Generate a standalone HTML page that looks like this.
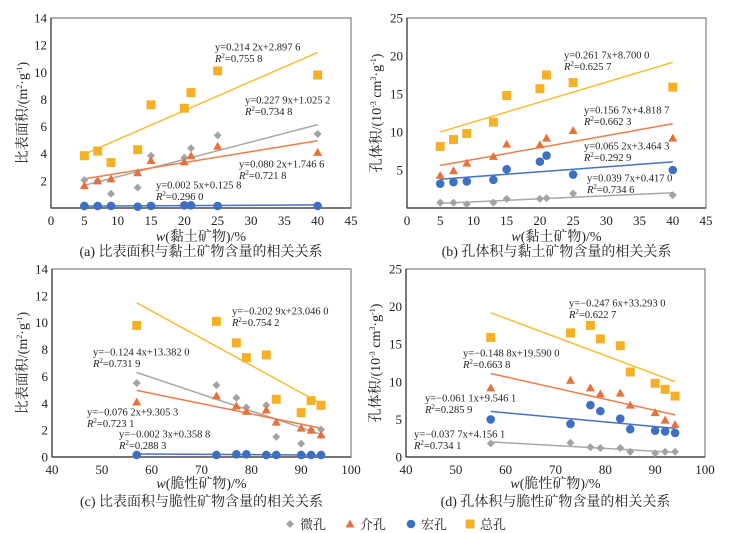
<!DOCTYPE html>
<html><head><meta charset="utf-8">
<style>
body{margin:0;background:#fff;}
svg{display:block;font-family:"Liberation Serif","Noto Serif CJK SC","Noto Sans CJK SC",serif;}
</style></head>
<body>
<svg id="fig" width="739" height="533" viewBox="0 0 739 533" xmlns="http://www.w3.org/2000/svg"></svg>
<script>
// Panel x categories
const clayX = [5,7,9,13,15,20,21,25,40];
const brittleX = [57,73,77,79,83,85,90,92,94];
// Panel a: specific surface area vs clay
const aTotal = [3.85,4.2,3.35,4.3,7.6,7.35,8.5,10.1,9.8];
const aMicro = [2.05,2.0,1.05,1.5,3.85,3.7,4.4,5.35,5.45];
const aMeso = [1.65,2.0,2.15,2.6,3.5,3.4,3.85,4.55,4.1];
const aMacro = [0.15,0.15,0.15,0.1,0.15,0.2,0.2,0.15,0.15];
// Panel b: pore volume vs clay
const bTotal = [8.1,9.0,9.8,11.3,14.8,15.7,17.5,16.5,15.9];
const bMeso = [4.3,4.9,5.9,6.8,8.4,8.3,9.2,10.2,9.2];
const bMacro = [3.2,3.4,3.5,3.7,5.1,6.1,6.9,4.4,5.0];
const bMicro = [0.7,0.7,0.5,0.7,1.2,1.2,1.3,1.9,1.7];
// Panel c: specific surface area vs brittle
const cTotal = [9.8,10.1,8.5,7.4,7.6,4.3,3.3,4.2,3.85];
const cMicro = [5.5,5.35,4.4,3.7,3.85,1.5,1.0,2.0,2.05];
const cMeso = [4.1,4.55,3.8,3.4,3.5,2.6,2.15,2.0,1.65];
const cMacro = [0.15,0.15,0.2,0.2,0.15,0.15,0.15,0.15,0.15];
// Panel d: pore volume vs brittle
const dTotal = [15.9,16.5,17.5,15.7,14.8,11.3,9.8,9.0,8.1];
const dMeso = [9.2,10.2,9.2,8.4,8.5,6.9,5.9,4.9,4.3];
const dMacro = [5.0,4.4,6.9,6.1,5.1,3.7,3.5,3.4,3.2];
const dMicro = [1.8,1.9,1.3,1.2,1.2,0.7,0.5,0.7,0.7];
// Fit lines [slope, intercept] (as drawn)
const aFits = {total:[0.2142,2.8976],micro:[0.1279,1.0252],meso:[0.0802,1.7466],macro:[0.0025,0.1258]};
const bFits = {total:[0.2617,8.7],meso:[0.1567,4.8187],macro:[0.0652,3.4643],micro:[0.0397,0.417]};
const cFits = {total:[-0.2029,23.046],micro:[-0.1244,13.382],meso:[-0.0762,9.3053],macro:[-0.0023,0.3588]};
const dFits = {total:[-0.2476,33.293],meso:[-0.1488,19.59],macro:[-0.0611,9.5461],micro:[-0.0377,4.1561]};
const clayTicks = [0,5,10,15,20,25,30,35,40,45];
const brittleTicks = [40,50,60,70,80,90,100];
const ssaTicks = [0,2,4,6,8,10,12,14];
const pvTicks = [0,5,10,15,20,25];

const NS="http://www.w3.org/2000/svg";
const svg=document.getElementById('fig');
const COL={micro:'#a3a3a3',meso:'#e8713a',macro:'#3d6fc2',total:'#f6b026'};
const LCOL={micro:'#a8a8a8',meso:'#ef7c45',macro:'#4472c4',total:'#fbbb33'};
function el(tag,attrs,parent){const e=document.createElementNS(NS,tag);for(const k in attrs)e.setAttribute(k,attrs[k]);(parent||svg).appendChild(e);return e;}
function txt(s,x,y,attrs,parent){const t=el('text',Object.assign({x:x,y:y},attrs),parent);t.textContent=s;return t;}

function panel(p){
  const g=el('g',{});
  
  
  const sx=v=>p.L+(v-p.x0)/(p.x1-p.x0)*(p.R-p.L);
  const sy=v=>p.B-(v-p.y0)/(p.y1-p.y0)*(p.B-p.T);
  const frame=el('rect',{x:p.L,y:p.T,width:p.R-p.L,height:p.B-p.T,fill:'none',stroke:'#808080','stroke-width':1.2},g);
  
  
  el('line',{x1:p.L,y1:p.T,x2:p.L,y2:p.B,stroke:'#333','stroke-width':1.2},g);
  el('line',{x1:p.L,y1:p.B,x2:p.R,y2:p.B,stroke:'#333','stroke-width':1.2},g);
  p.xt.forEach(v=>{const t=txt(String(v),sx(v),p.B+17,{'text-anchor':'middle','font-size':13,fill:'#222'},g);
    });
  p.yt.forEach(v=>{if(p.skip0&&v===0)return;const t=txt(String(v),p.L-4,sy(v)+4.5,{'text-anchor':'end','font-size':13,fill:'#222'},g);
    });
  const xa=p.xs[0],xb=p.xs[p.xs.length-1];
  for(const k in p.fits){const f=p.fits[k];
    const ln=el('line',{x1:sx(xa),y1:sy(f[0]*xa+f[1]),x2:sx(xb),y2:sy(f[0]*xb+f[1]),stroke:LCOL[k],'stroke-width':1.5},g);
    }
  ['micro','meso','macro','total'].forEach(k=>{const ys=p.series[k];
    ys.forEach((v,i)=>{const x=sx(p.xs[i]),y=sy(v);let m;
      if(k==='micro')m=el('path',{d:`M${x},${y-4}L${x+4},${y}L${x},${y+4}L${x-4},${y}Z`,fill:COL[k]},g);
      else if(k==='meso')m=el('path',{d:`M${x},${y-4.5}L${x+4.5},${y+3.5}L${x-4.5},${y+3.5}Z`,fill:COL[k]},g);
      else if(k==='macro')m=el('circle',{cx:x,cy:y,r:4.3,fill:COL[k]},g);
      else m=el('rect',{x:x-4.5,y:y-4.5,width:9,height:9,fill:COL[k]},g);
      });});
  p.eq.forEach(e=>{const t1=txt(e[0],e[2],e[3]+3.5,{'font-size':10.5,fill:'#222'},g);
    
    const t2=txt('',e[2],e[3]+15,{'font-size':10.5,fill:'#222'},g);
    t2.innerHTML='<tspan font-style="italic">R</tspan><tspan font-size="7" dy="-4">2</tspan><tspan dy="4">='+e[1]+'</tspan>';
    });
  const xt=txt('',(p.L+p.R)/2,p.xtY,{'text-anchor':'middle','font-size':14,fill:'#222'},g);
  xt.innerHTML='<tspan font-style="italic">w</tspan>('+p.xtitle+')/%';
  
  const yt=txt('',0,0,{'text-anchor':'middle','font-size':14,fill:'#222',transform:`translate(${p.ytX},${(p.T+p.B)/2}) rotate(-90)`},g);
  yt.innerHTML=p.ytitle;
  
  const cap=txt(p.caption,(p.L+p.R)/2,p.capY,{'text-anchor':'middle','font-size':14,fill:'#222'},g);
  
}
const ssaTitle='比表面积/(m<tspan font-size="8" dy="-5">2</tspan><tspan dy="5">·g</tspan><tspan font-size="8" dy="-5">-1</tspan><tspan dy="5">)</tspan>';
const pvTitle='孔体积/(10<tspan font-size="8" dy="-5">-3</tspan><tspan dy="5"> cm</tspan><tspan font-size="8" dy="-5">3</tspan><tspan dy="5">·g</tspan><tspan font-size="8" dy="-5">-1</tspan><tspan dy="5">)</tspan>';

panel({name:'panel-a',L:51,R:351,T:18,B:208,x0:0,x1:45,y0:0,y1:14,xt:clayTicks,yt:ssaTicks,skip0:true,xs:clayX,
  series:{micro:aMicro,meso:aMeso,macro:aMacro,total:aTotal},fits:aFits,
  eq:[['y=0.214 2x+2.897 6','0.755 8',215,47],['y=0.227 9x+1.025 2','0.734 8',245,100],['y=0.080 2x+1.746 6','0.721 8',239,164],['y=0.002 5x+0.125 8','0.296 0',156,185]],
  xtitle:'黏土矿物',ytitle:ssaTitle,ytX:27,xtY:241,caption:'(a) 比表面积与黏土矿物含量的相关关系',capY:256});
panel({name:'panel-b',L:407,R:706,T:18,B:208,x0:0,x1:45,y0:0,y1:25,xt:clayTicks,yt:pvTicks,skip0:true,xs:clayX,
  series:{micro:bMicro,meso:bMeso,macro:bMacro,total:bTotal},fits:bFits,
  eq:[['y=0.261 7x+8.700 0','0.625 7',564,55],['y=0.156 7x+4.818 7','0.662 3',584,110],['y=0.065 2x+3.464 3','0.292 9',584,146],['y=0.039 7x+0.417 0','0.734 6',587,178]],
  xtitle:'黏土矿物',ytitle:pvTitle,ytX:381,xtY:241,caption:'(b) 孔体积与黏土矿物含量的相关关系',capY:256});
panel({name:'panel-c',L:52,R:351,T:269,B:457,x0:40,x1:100,y0:0,y1:14,xt:brittleTicks,yt:ssaTicks,skip0:false,xs:brittleX,
  series:{micro:cMicro,meso:cMeso,macro:cMacro,total:cTotal},fits:cFits,
  eq:[['y=−0.202 9x+23.046 0','0.754 2',232,311],['y=−0.124 4x+13.382 0','0.731 9',93,352],['y=−0.076 2x+9.305 3','0.723 1',87,412],['y=−0.002 3x+0.358 8','0.288 3',119,434]],
  xtitle:'脆性矿物',ytitle:ssaTitle,ytX:27,xtY:488,caption:'(c) 比表面积与脆性矿物含量的相关关系',capY:506});
panel({name:'panel-d',L:406,R:705,T:269,B:457,x0:40,x1:100,y0:0,y1:25,xt:brittleTicks,yt:pvTicks,skip0:false,xs:brittleX,
  series:{micro:dMicro,meso:dMeso,macro:dMacro,total:dTotal},fits:dFits,
  eq:[['y=−0.247 6x+33.293 0','0.622 7',569,303],['y=−0.148 8x+19.590 0','0.663 8',463,353],['y=−0.061 1x+9.546 1','0.285 9',425,398],['y=−0.037 7x+4.156 1','0.734 1',414,434]],
  xtitle:'脆性矿物',ytitle:pvTitle,ytX:380,xtY:488,caption:'(d) 孔体积与脆性矿物含量的相关关系',capY:506});

const lg=el('g',{});


[['micro','微孔',290],['meso','介孔',350],['macro','宏孔',411],['total','总孔',470]].forEach(it=>{
  const x=it[2],y=524;let m;
  if(it[0]==='micro')m=el('path',{d:`M${x},${y-4}L${x+4},${y}L${x},${y+4}L${x-4},${y}Z`,fill:COL.micro},lg);
  else if(it[0]==='meso')m=el('path',{d:`M${x},${y-4.5}L${x+4.5},${y+3.5}L${x-4.5},${y+3.5}Z`,fill:COL.meso},lg);
  else if(it[0]==='macro')m=el('circle',{cx:x,cy:y,r:4.3,fill:COL.macro},lg);
  else m=el('rect',{x:x-4.5,y:y-4.5,width:9,height:9,fill:COL.total},lg);
  
  
  const t=txt(it[1],x+10,y+5,{'font-size':13,fill:'#222'},lg);
  
  
});
</script>
</body></html>
